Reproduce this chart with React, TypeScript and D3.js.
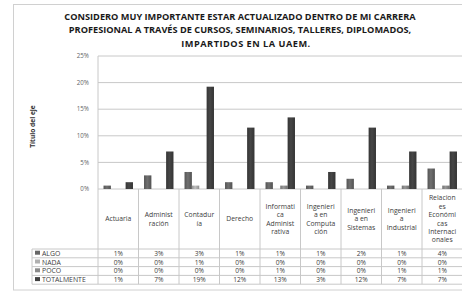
import React from "react";
import * as d3 from "d3";

const titleLines = [
  "CONSIDERO MUY IMPORTANTE ESTAR ACTUALIZADO DENTRO DE MI CARRERA",
  "PROFESIONAL A TRAVÉS DE CURSOS, SEMINARIOS, TALLERES, DIPLOMADOS,",
  "IMPARTIDOS EN LA UAEM.",
];
const axisTitle = "Título del eje";
const categories = [
  "Actuaria",
  "Administración",
  "Contaduría",
  "Derecho",
  "Informatica Administrativa",
  "Ingenieria en Computación",
  "Ingenieria en Sistemas",
  "Ingenieria Industrial",
  "Relaciones Económicas Internacionales",
];
const categoryLabelLines = [
  ["Actuaria"],
  ["Administ", "ración"],
  ["Contadur", "ía"],
  ["Derecho"],
  ["Informati", "ca", "Administ", "rativa"],
  ["Ingenieri", "a en", "Computa", "ción"],
  ["Ingenieri", "a en", "Sistemas"],
  ["Ingenieri", "a", "Industrial"],
  ["Relacion", "es", "Económi", "cas", "Internaci", "onales"],
];
const seriesNames = ["ALGO", "NADA", "POCO", "TOTALMENTE"];
const algo = [0.64, 2.56, 3.2, 1.28, 1.28, 0.64, 1.92, 0.64, 3.85];
const nada = [0, 0, 0.64, 0, 0, 0, 0, 0, 0];
const poco = [0, 0, 0, 0, 0.64, 0, 0, 0.64, 0.64];
const totalmente = [1.28, 7.05, 19.23, 11.54, 13.46, 3.2, 11.54, 7.05, 7.05];
const yTicks = [0, 5, 10, 15, 20, 25];

const seriesValues = [algo, nada, poco, totalmente];
const seriesColors = ["#666666", "#b0b0b0", "#8a8a8a", "#404040"];

export default function App() {
  const W = 462;
  const H = 293;
  const plotLeft = 98;
  const plotRight = 462.5;
  const plotTop = 56;
  const plotBottom = 189;
  const headerBottom = 249;
  const rowH = 8.8;
  const tableLeft = 32;

  const x = d3.scaleBand<string>().domain(categories).range([plotLeft, plotRight]).paddingInner(0).paddingOuter(0);
  const xs = d3.scaleBand<string>().domain(seriesNames).range([0, x.step()]).paddingInner(0).paddingOuter(0.75);
  const y = d3.scaleLinear().domain([0, 25]).range([plotBottom, plotTop]);
  const fmt = (v: number) => d3.format(".0f")(Math.round(v)) + "%";

  const font = "'Open Sans', 'DejaVu Sans', sans-serif";
  const lineColor = "#c8c8c8";
  const tableBottom = headerBottom + rowH * seriesNames.length;
  const tfs = 6.6;

  return (
    <svg width={W} height={H} style={{ position: "absolute", left: 0, top: 0, background: "#fff" }} fontFamily={font}>
      <defs>
        {seriesColors.map((c, i) => {
          const col = d3.color(c)!;
          return (
            <linearGradient key={i} id={`g${i}`} x1="0" x2="1" y1="0" y2="0">
              <stop offset="0%" stopColor={col.darker(0.5).toString()} />
              <stop offset="45%" stopColor={col.brighter(0.25).toString()} />
              <stop offset="100%" stopColor={col.darker(0.6).toString()} />
            </linearGradient>
          );
        })}
      </defs>
      {/* outer chart border */}
      <rect x={13.5} y={4.5} width={470} height={285.5} fill="none" stroke="#d0d0d0" />

      {/* title */}
      {titleLines.map((t, i) => (
        <text
          key={i}
          x={i === 2 ? 246 : 240}
          y={[20, 33, 47][i]}
          textAnchor="middle"
          fontSize={9.2}
          letterSpacing={i === 2 ? 0.5 : 0}
          fontWeight="bold"
          fill="#1a1a1a"
        >
          {t}
        </text>
      ))}

      {/* gridlines */}
      {yTicks.map((t) => (
        <line key={t} x1={plotLeft} x2={plotRight} y1={y(t)} y2={y(t)} stroke={lineColor} strokeWidth={1} />
      ))}
      {/* y tick labels */}
      {yTicks.map((t) => (
        <text key={t} x={89} y={y(t) + 2.2} textAnchor="end" fontSize={6.2} fill="#666">
          {t + "%"}
        </text>
      ))}
      {/* axis title */}
      <text transform={`translate(35,${(plotTop + plotBottom) / 2 + 4}) rotate(-90)`} textAnchor="middle" fontSize={6.6} fontWeight="bold" fill="#333">
        {axisTitle}
      </text>

      {/* plot left axis line */}
      <line x1={plotLeft} x2={plotLeft} y1={plotTop} y2={tableBottom} stroke={lineColor} />

      {/* bars */}
      {categories.map((c, ci) =>
        seriesNames.map((s, si) => {
          const v = seriesValues[si][ci];
          if (v <= 0) return null;
          const bx = (x(c) ?? 0) + (xs(s) ?? 0);
          return (
            <rect key={c + s} x={bx} y={y(v)} width={xs.bandwidth()} height={plotBottom - y(v)} fill={`url(#g${si})`} />
          );
        })
      )}

      {/* table vertical lines */}
      {categories.map((c) => (
        <line key={c} x1={(x(c) ?? 0) + x.step()} x2={(x(c) ?? 0) + x.step()} y1={plotBottom} y2={tableBottom} stroke={lineColor} />
      ))}
      <line x1={tableLeft} x2={tableLeft} y1={headerBottom} y2={tableBottom} stroke={lineColor} />
      {/* table horizontal lines */}
      {d3.range(seriesNames.length + 1).map((i) => (
        <line key={i} x1={tableLeft} x2={plotRight} y1={headerBottom + i * rowH} y2={headerBottom + i * rowH} stroke={lineColor} />
      ))}
      {/* category labels */}
      {categories.map((c, ci) => {
        const lines = categoryLabelLines[ci];
        const lh = 8.4;
        const cy = (plotBottom + headerBottom) / 2;
        const y0 = cy - ((lines.length - 1) * lh) / 2 + 2.4;
        return (
          <text key={c} textAnchor="middle" fontSize={tfs + 0.2} fill="#404040">
            {lines.map((l, li) => (
              <tspan key={li} x={(x(c) ?? 0) + x.step() / 2} y={y0 + li * lh}>
                {l}
              </tspan>
            ))}
          </text>
        );
      })}
      {/* table rows */}
      {seriesNames.map((s, si) => {
        const ry = headerBottom + si * rowH + rowH / 2 + 2.3;
        return (
          <g key={s}>
            <rect x={tableLeft + 3} y={ry - 5} width={5} height={4} fill={seriesColors[si]} />
            <text x={tableLeft + 10} y={ry} fontSize={tfs + 0.3} fill="#404040">
              {s}
            </text>
            {categories.map((c, ci) => (
              <text key={c} x={(x(c) ?? 0) + x.step() / 2} y={ry} textAnchor="middle" fontSize={tfs} fill="#404040">
                {fmt(seriesValues[si][ci])}
              </text>
            ))}
          </g>
        );
      })}
    </svg>
  );
}
